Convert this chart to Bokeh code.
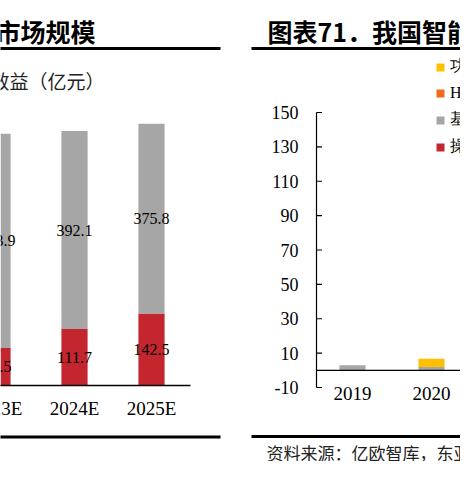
from bokeh.plotting import figure
from bokeh.models import Range1d, ColumnDataSource, Legend, LegendItem
from bokeh.core.properties import value
from bokeh.embed import file_html
from bokeh.resources import INLINE

# ---------------- data ----------------
left_years = ["2023E", "2024E", "2025E"]
left_red = [74.5, 111.7, 142.5]
left_gray = [423.9, 392.1, 375.8]

right_years = ["2019", "2020"]
right_func = [0.0, 4.8]   # 功能软件
right_hyp = [0.0, 0.0]    # Hypervisor
right_base = [3.0, 2.0]   # 基础软件
right_os = [0.0, 0.0]     # 操作系统
right_ticks = [-10, 10, 30, 50, 70, 90, 110, 130, 150]
legend_labels = ["功能软件", "Hypervisor", "基础软件", "操作系统"]

left_title = "市场规模"
left_subtitle = "效益（亿元）"
right_title = "图表71．我国智能"
source_text = "资料来源：亿欧智库，东亚前海证券研究所"

# ---------------- styles ----------------
C_RED = "#C3262E"
C_GRAY = "#A6A6A6"
C_YEL = "#FFC000"
C_ORG = "#F26B1D"
SERIF = "Liberation Serif"
CJK = "Noto Sans CJK SC"

W, H = 460, 461

# left chart scale (pixel -> data)
def lx(px):
    return 1 + (px - 74.0) / 77.0

def ly(py):
    return (385.0 - py) / 0.505

# right chart scale (pixel -> data)
def rx(px):
    return (px - 352.0) / 79.0

def ry(py):
    return 150 - (py - 112.0) * 160.0 / 275.0

p = figure(width=W, height=H, output_backend="svg", toolbar_location=None,
           x_range=Range1d(0, W), y_range=Range1d(H, 0),
           x_axis_location=None, y_axis_location=None, min_border=0)
p.extra_x_ranges = {"L": Range1d(lx(0), lx(W)), "R": Range1d(rx(0), rx(W))}
p.extra_y_ranges = {"L": Range1d(ly(H), ly(0)), "R": Range1d(ry(H), ry(0))}
p.grid.visible = False
p.outline_line_color = None

# ================= left chart =================
xs = list(range(len(left_years)))
lsrc = ColumnDataSource(dict(x=xs, red=left_red, gray=left_gray))
p.vbar_stack(["red", "gray"], x="x", width=0.34, fill_color=[C_RED, C_GRAY],
             line_color=None, source=lsrc, x_range_name="L", y_range_name="L")

lab_x = xs + xs
lab_y = [r / 2 for r in left_red] + [r + g / 2 for r, g in zip(left_red, left_gray)]
lab_t = [f"{v:.1f}" for v in left_red] + [f"{v:.1f}" for v in left_gray]
p.text(x=lab_x, y=lab_y, text=lab_t, text_font=value(SERIF), text_font_size="16px",
       text_align="center", text_baseline="middle", text_color="black",
       x_range_name="L", y_range_name="L")
p.text(x=xs, y=[408] * len(xs), text=left_years, text_font=value(SERIF),
       text_font_size="19px", text_align="center", text_baseline="middle",
       text_color="black", x_range_name="L")
# baseline of the left chart
p.segment(x0=[lx(-5)], y0=[0], x1=[lx(190)], y1=[0], line_color="black",
          line_width=1.3, x_range_name="L", y_range_name="L")

# ================= right chart =================
rxs = list(range(len(right_years)))
rsrc = ColumnDataSource(dict(x=rxs, os=right_os, base=right_base, hyp=right_hyp,
                             func=right_func))
rends = p.vbar_stack(["os", "base", "hyp", "func"], x="x", width=0.33,
                     fill_color=[C_RED, C_GRAY, C_ORG, C_YEL], line_color=None,
                     source=rsrc, x_range_name="R", y_range_name="R")

# y axis of the right chart (line, inward ticks, labels)
p.segment(x0=[316], y0=[right_ticks[0]], x1=[316], y1=[right_ticks[-1]],
          line_color="black", line_width=1.2, y_range_name="R")
p.segment(x0=[316] * len(right_ticks), y0=right_ticks, x1=[321.5] * len(right_ticks),
          y1=right_ticks, line_color="black", line_width=1.2, y_range_name="R")
p.text(x=[298] * len(right_ticks), y=right_ticks, text=[str(t) for t in right_ticks],
       text_font=value(SERIF), text_font_size="18px", text_align="right",
       text_baseline="middle", text_color="black", y_range_name="R")
# zero line
p.segment(x0=[316], y0=[0], x1=[W + 10], y1=[0], line_color="black",
          line_width=1.3, y_range_name="R")
# category labels
p.text(x=rxs, y=[393] * len(rxs), text=right_years, text_font=value(SERIF),
       text_font_size="19px", text_align="center", text_baseline="middle",
       text_color="black", x_range_name="R")

order = [3, 2, 1, 0]
items = [LegendItem(label=legend_labels[i], renderers=[rends[j]])
         for i, j in enumerate(order)]
legend = Legend(items=items, location=(435, H - 157), orientation="vertical",
                padding=0, spacing=6, glyph_width=10, glyph_height=10,
                label_standoff=5, label_height=20, label_text_font_size="16px",
                label_text_font=SERIF, label_text_color="black",
                border_line_color=None, background_fill_alpha=0, margin=0)
p.add_layout(legend)

# ================= page decorations =================
p.text(x=[95], y=[30], text=[left_title], text_font=value(CJK), text_font_style="bold",
       text_font_size="25px", text_align="right", text_baseline="middle",
       text_color="black")
p.text(x=[267], y=[30], text=[right_title], text_font=value(CJK), text_font_style="bold",
       text_font_size="25px", text_align="left", text_baseline="middle",
       text_color="black")
p.text(x=[104], y=[80], text=[left_subtitle], text_font=value(CJK),
       text_font_size="19px", text_align="right", text_baseline="middle",
       text_color="#222222")
p.text(x=[266], y=[452], text=[source_text], text_font=value(CJK),
       text_font_size="17px", text_align="left", text_baseline="middle",
       text_color="#222222")
# thick rules
p.segment(x0=[-5, 251, -5, 251], y0=[48, 48, 436.5, 436], x1=[220, 480, 220, 480],
          y1=[48, 48, 436.5, 436], line_color="black", line_width=3)

open("out.html", "w").write(file_html(p, INLINE))
